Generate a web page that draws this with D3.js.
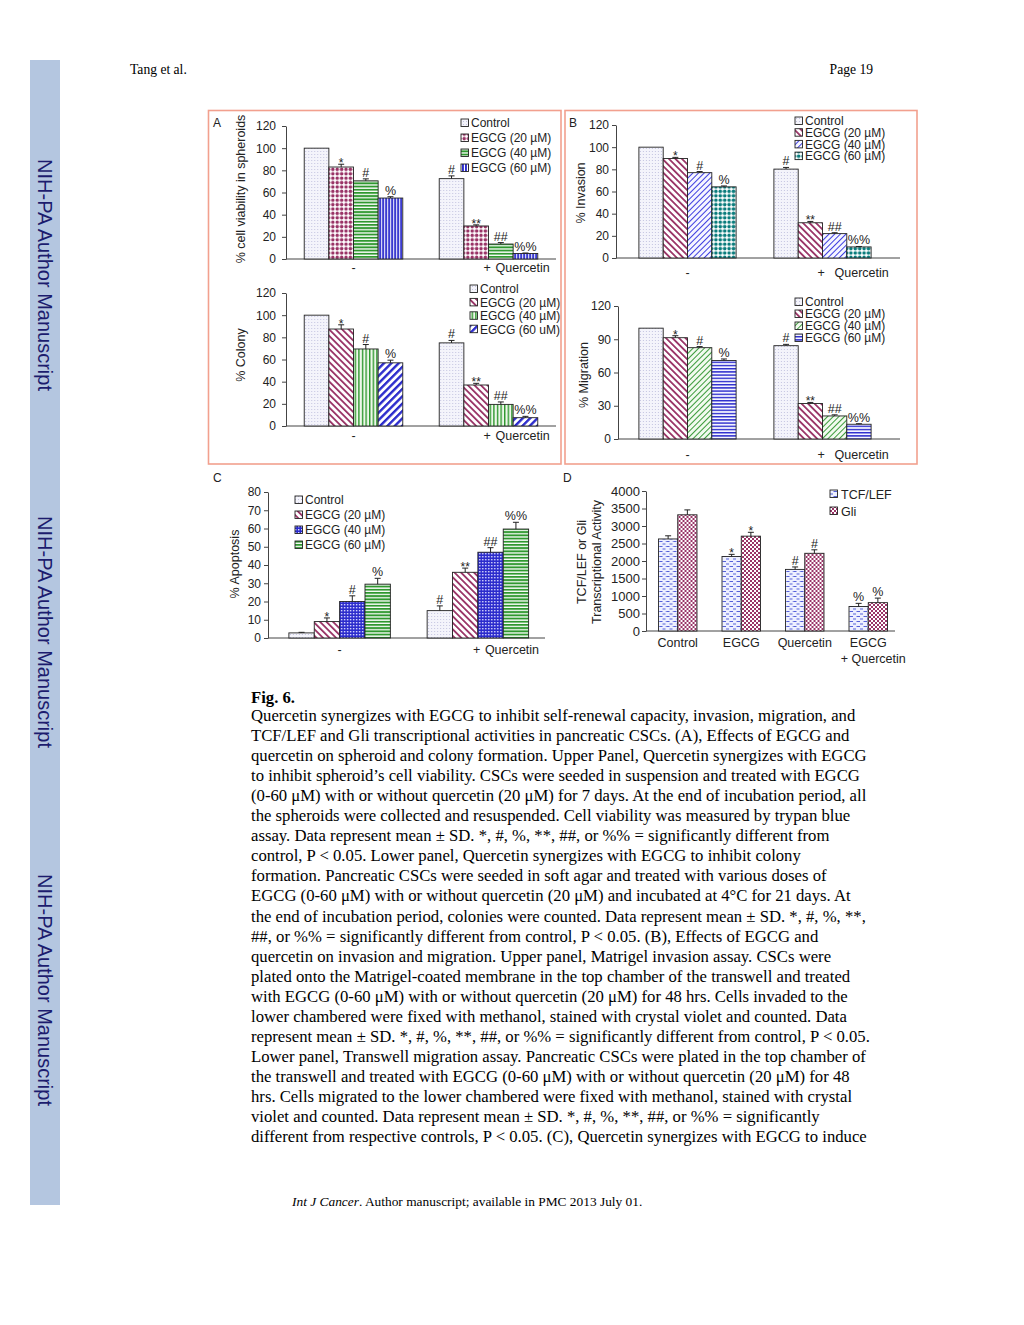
<!DOCTYPE html>
<html>
<head>
<meta charset="utf-8">
<script src="https://cdn.jsdelivr.net/npm/d3@7"></script>
<style>
body { margin: 0; background: #fff; }
svg { display: block; }
</style>
</head>
<body>
<svg id="page" width="1024" height="1325"></svg>
<script>
// ---------------- data ----------------
var groupsAB = ["-", "+ Quercetin"];
var doseLegend = ["Control", "EGCG (20 µM)", "EGCG (40 µM)", "EGCG (60 µM)"];
var doseLegendColony = ["Control", "EGCG (20 µM)", "EGCG (40 µM)", "EGCG (60 uM)"];
var marksNoQ = ["", "*", "#", "%"];
var marksQ = ["#", "**", "##", "%%"];

var viabilityNoQ = [100, 83, 70.5, 55];
var viabilityQ = [72.5, 29.8, 13.5, 5];
var viabilityErrNoQ = [0, 2.5, 1.8, 1.2];
var viabilityErrQ = [2.5, 1, 1.3, 0.4];
var viabilityTicks = [0, 20, 40, 60, 80, 100, 120];

var colonyNoQ = [100, 87.5, 69.5, 57];
var colonyQ = [75, 37, 19.5, 7.5];
var colonyErrNoQ = [0, 3.8, 4, 2.4];
var colonyErrQ = [2.2, 1.5, 2.2, 1.2];

var invasionNoQ = [100, 89.8, 77, 64.2];
var invasionQ = [80.2, 31.8, 22, 10];
var invasionErrNoQ = [0, 1, 1, 0.8];
var invasionErrQ = [1.5, 1.2, 0.8, 0.4];

var migrationNoQ = [100, 91.4, 82.4, 70.8];
var migrationQ = [84.2, 32, 20.8, 13.3];
var migrationErrNoQ = [0, 1.8, 1, 1.4];
var migrationErrQ = [1.2, 1, 1, 0.5];
var migrationTicks = [0, 30, 60, 90, 120];

var apoptosisNoQ = [2.8, 9, 20, 29.5];
var apoptosisQ = [15, 36, 47, 59.7];
var apoptosisErrNoQ = [0.3, 2, 3.1, 3.2];
var apoptosisErrQ = [2.6, 2.3, 2.5, 3.7];
var apoptosisTicks = [0, 10, 20, 30, 40, 50, 60, 70, 80];

var treatments = ["Control", "EGCG", "Quercetin", "EGCG + Quercetin"];
var reporterLegend = ["TCF/LEF", "Gli"];
var tcfLef = [2630, 2130, 1760, 700];
var gli = [3320, 2710, 2220, 810];
var tcfLefErr = [90, 60, 70, 90];
var gliErr = [140, 110, 100, 130];
var reporterMarks = ["", "*", "#", "%"];
var reporterTicks = [0, 500, 1000, 1500, 2000, 2500, 3000, 3500, 4000];

var captionLines = [
  "Quercetin synergizes with EGCG to inhibit self-renewal capacity, invasion, migration, and",
  "TCF/LEF and Gli transcriptional activities in pancreatic CSCs. (A), Effects of EGCG and",
  "quercetin on spheroid and colony formation. Upper Panel, Quercetin synergizes with EGCG",
  "to inhibit spheroid\u2019s cell viability. CSCs were seeded in suspension and treated with EGCG",
  "(0-60 \u03bcM) with or without quercetin (20 \u03bcM) for 7 days. At the end of incubation period, all",
  "the spheroids were collected and resuspended. Cell viability was measured by trypan blue",
  "assay. Data represent mean \u00b1 SD. *, #, %, **, ##, or %% = significantly different from",
  "control, P < 0.05. Lower panel, Quercetin synergizes with EGCG to inhibit colony",
  "formation. Pancreatic CSCs were seeded in soft agar and treated with various doses of",
  "EGCG (0-60 \u03bcM) with or without quercetin (20 \u03bcM) and incubated at 4\u00b0C for 21 days. At",
  "the end of incubation period, colonies were counted. Data represent mean \u00b1 SD. *, #, %, **,",
  "##, or %% = significantly different from control, P < 0.05. (B), Effects of EGCG and",
  "quercetin on invasion and migration. Upper panel, Matrigel invasion assay. CSCs were",
  "plated onto the Matrigel-coated membrane in the top chamber of the transwell and treated",
  "with EGCG (0-60 \u03bcM) with or without quercetin (20 \u03bcM) for 48 hrs. Cells invaded to the",
  "lower chambered were fixed with methanol, stained with crystal violet and counted. Data",
  "represent mean \u00b1 SD. *, #, %, **, ##, or %% = significantly different from control, P < 0.05.",
  "Lower panel, Transwell migration assay. Pancreatic CSCs were plated in the top chamber of",
  "the transwell and treated with EGCG (0-60 \u03bcM) with or without quercetin (20 \u03bcM) for 48",
  "hrs. Cells migrated to the lower chambered were fixed with methanol, stained with crystal",
  "violet and counted. Data represent mean \u00b1 SD. *, #, %, **, ##, or %% = significantly",
  "different from respective controls, P < 0.05. (C), Quercetin synergizes with EGCG to induce"
];

// ---------------- setup ----------------
var SANS = "'Liberation Sans', Arial, sans-serif";
var SERIF = "'Liberation Serif', 'Times New Roman', serif";
var INK = "#222";
var MAROON = "#993366", GREEN = "#2f982f", BLUE = "#2b2bcc", TEAL = "#0a7c7c";

var svg = d3.select("#page");
svg.append("rect").attr("width", 1024).attr("height", 1325).attr("fill", "#fff");
var defs = svg.append("defs");

function stripes(id, color, bg, size, thick, angle) {
  var p = defs.append("pattern").attr("id", id).attr("patternUnits", "userSpaceOnUse")
    .attr("width", size).attr("height", size).attr("patternTransform", "rotate(" + angle + ")");
  p.append("rect").attr("width", size).attr("height", size).attr("fill", bg);
  p.append("rect").attr("width", thick).attr("height", size).attr("fill", color);
}
function dots(id, color, bg, size, r) {
  var p = defs.append("pattern").attr("id", id).attr("patternUnits", "userSpaceOnUse")
    .attr("width", size).attr("height", size);
  p.append("rect").attr("width", size).attr("height", size).attr("fill", bg);
  p.append("circle").attr("cx", size / 2).attr("cy", size / 2).attr("r", r).attr("fill", color);
}

// control: faint lavender dots
(function() {
  var p = defs.append("pattern").attr("id", "pCtrl").attr("patternUnits", "userSpaceOnUse").attr("width", 3).attr("height", 3);
  p.append("rect").attr("width", 3).attr("height", 3).attr("fill", "#f4f4fb");
  p.append("rect").attr("x", 1).attr("y", 1).attr("width", 1).attr("height", 1).attr("fill", "#c4c4e0");
})();
dots("pMaroonDots", MAROON, "#fff", 4.4, 1.75);
dots("pTealDots", TEAL, "#fff", 4.4, 1.8);
stripes("pGreenH", GREEN, "#fff", 3.2, 1.9, 90);
stripes("pBlueV", BLUE, "#fff", 3, 1.9, 0);
stripes("pMaroonDiag", MAROON, "#fff", 4.6, 1.8, -45);
stripes("pGreenV", GREEN, "#eef7ea", 3.6, 1.4, 0);
stripes("pBlueDiagWide", BLUE, "#fff", 5.2, 2.4, 45);
stripes("pBlueDiagThin", "#3d3de0", "#f6f6ff", 4, 1, 45);
stripes("pGreenDiag", "#3a9a3a", "#f2faef", 4, 1, 45);
stripes("pBlueH", BLUE, "#f4f4ff", 3.2, 1.4, 90);
(function() {
  var p = defs.append("pattern").attr("id", "pBlueGrid").attr("patternUnits", "userSpaceOnUse").attr("width", 3).attr("height", 3);
  p.append("rect").attr("width", 3).attr("height", 3).attr("fill", BLUE);
  p.append("rect").attr("x", 1).attr("y", 1).attr("width", 1.4).attr("height", 1.4).attr("fill", "#dcdcff");
  var q = defs.append("pattern").attr("id", "pBlueDash").attr("patternUnits", "userSpaceOnUse").attr("width", 7).attr("height", 5);
  q.append("rect").attr("width", 7).attr("height", 5).attr("fill", "#eef0ff");
  q.append("rect").attr("x", 0.5).attr("y", 1).attr("width", 3.5).attr("height", 1).attr("fill", "#5560d8");
  q.append("rect").attr("x", 4).attr("y", 3.5).attr("width", 3.5).attr("height", 1).attr("fill", "#5560d8");
  var c = defs.append("pattern").attr("id", "pMaroonCheck").attr("patternUnits", "userSpaceOnUse").attr("width", 4).attr("height", 4);
  c.append("rect").attr("width", 4).attr("height", 4).attr("fill", "#fff");
  c.append("rect").attr("width", 2).attr("height", 2).attr("fill", MAROON);
  c.append("rect").attr("x", 2).attr("y", 2).attr("width", 2).attr("height", 2).attr("fill", MAROON);
})();

// ---------------- page furniture ----------------
svg.append("rect").attr("x", 30).attr("y", 60).attr("width", 30).attr("height", 1145).attr("fill", "#b4c6e0");
[275, 632, 990].forEach(function(cy) {
  svg.append("text").attr("transform", "translate(45," + cy + ") rotate(90)")
    .attr("text-anchor", "middle").attr("dy", "0.35em")
    .attr("font-family", SANS).attr("font-size", 20).attr("fill", "#1c1c6e")
    .text("NIH-PA Author Manuscript");
});
svg.append("text").attr("x", 130).attr("y", 74).attr("font-family", SERIF).attr("font-size", 13.6).text("Tang et al.");
svg.append("text").attr("x", 873).attr("y", 74).attr("text-anchor", "end").attr("font-family", SERIF).attr("font-size", 13.6).text("Page 19");

var foot = svg.append("text").attr("x", 292).attr("y", 1206).attr("font-family", SERIF).attr("font-size", 13.4);
foot.append("tspan").attr("font-style", "italic").text("Int J Cancer");
foot.append("tspan").text(". Author manuscript; available in PMC 2013 July 01.");

// panel frames
svg.append("rect").attr("x", 208.5).attr("y", 110.5).attr("width", 352.5).attr("height", 353.5)
  .attr("fill", "none").attr("stroke", "#f2a08e").attr("stroke-width", 1.6);
svg.append("rect").attr("x", 565).attr("y", 110.5).attr("width", 352).attr("height", 353.5)
  .attr("fill", "none").attr("stroke", "#f2a08e").attr("stroke-width", 1.6);

[["A", 213, 127], ["B", 569, 127], ["C", 213, 482], ["D", 563, 482]].forEach(function(l) {
  svg.append("text").attr("x", l[1]).attr("y", l[2]).attr("font-family", SANS).attr("font-size", 12).attr("fill", INK).text(l[0]);
});

// ---------------- chart drawing ----------------
function drawChart(cfg) {
  var g = svg.append("g").attr("font-family", SANS);
  var y = d3.scaleLinear().domain([0, cfg.yMax]).range([cfg.yBottom, cfg.yTop]);
  var x0 = d3.scaleBand().domain(cfg.groups).range(cfg.bandRange).paddingInner(cfg.pad).paddingOuter(cfg.pad / 2);
  var x1 = d3.scaleBand().domain(d3.range(cfg.fills.length)).range([0, x0.bandwidth()]);

  var ax = g.append("g").attr("transform", "translate(" + cfg.axisX + ",0)")
    .call(d3.axisLeft(y).tickValues(cfg.ticks).tickFormat(d3.format("d"))
      .tickSize(4).tickSizeOuter(0).tickPadding(cfg.tickPad));
  ax.selectAll("text").attr("font-size", cfg.tickFont || 12).attr("fill", INK).attr("font-family", SANS);
  ax.selectAll("line,path").attr("stroke", "#444");
  g.append("line").attr("x1", cfg.axisX).attr("x2", cfg.axisEnd).attr("y1", y(0)).attr("y2", y(0)).attr("stroke", "#444");

  var rows = cfg.values.map(function(vals, gi) {
    return vals.map(function(v, si) {
      return { gi: gi, si: si, v: v, e: cfg.errors[gi][si], m: cfg.marks[gi][si] };
    });
  });
  var grp = g.selectAll(".grp").data(rows).join("g")
    .attr("transform", function(d, i) { return "translate(" + x0(cfg.groups[i]) + ",0)"; });
  grp.selectAll("rect").data(function(d) { return d; }).join("rect")
    .attr("x", function(d) { return x1(d.si); })
    .attr("y", function(d) { return y(d.v); })
    .attr("width", x1.bandwidth())
    .attr("height", function(d) { return y(0) - y(d.v); })
    .attr("fill", function(d) { return "url(#" + cfg.fills[d.si] + ")"; })
    .attr("stroke", "#222").attr("stroke-width", 0.9);
  var eb = grp.selectAll(".err").data(function(d) { return d.filter(function(b) { return b.e > 0; }); }).join("g");
  eb.append("line")
    .attr("x1", function(d) { return x1(d.si) + x1.bandwidth() / 2; })
    .attr("x2", function(d) { return x1(d.si) + x1.bandwidth() / 2; })
    .attr("y1", function(d) { return y(d.v); })
    .attr("y2", function(d) { return y(d.v + d.e); })
    .attr("stroke", "#222");
  eb.append("line")
    .attr("x1", function(d) { return x1(d.si) + x1.bandwidth() / 2 - 3; })
    .attr("x2", function(d) { return x1(d.si) + x1.bandwidth() / 2 + 3; })
    .attr("y1", function(d) { return y(d.v + d.e); })
    .attr("y2", function(d) { return y(d.v + d.e); })
    .attr("stroke", "#222");
  grp.selectAll(".mark").data(function(d) { return d.filter(function(b) { return b.m; }); }).join("text")
    .attr("x", function(d) { return x1(d.si) + x1.bandwidth() / 2; })
    .attr("y", function(d) { return y(d.v + d.e) + (d.m.charAt(0) === "*" ? 3 : -2); })
    .attr("text-anchor", "middle")
    .attr("font-size", function(d) { return d.m.charAt(0) === "*" ? 12 : 12.5; })
    .attr("fill", INK)
    .text(function(d) { return d.m; });

  // y title
  cfg.yTitle.forEach(function(t, i) {
    g.append("text").attr("transform", "translate(" + cfg.yTitleX[i] + "," + cfg.yTitleY + ") rotate(-90)")
      .attr("text-anchor", "middle").attr("dy", "0.35em")
      .attr("font-size", cfg.yTitleFont || 12.5).attr("fill", INK).text(t);
  });

  // x labels
  cfg.groups.forEach(function(gr, gi) {
    var cx = x0(gr) + x0.bandwidth() / 2;
    if (cfg.xStyle === "dose") {
      if (gi === 0) {
        g.append("text").attr("x", cx).attr("y", cfg.xLabelY).attr("text-anchor", "middle")
          .attr("font-size", 12.5).attr("fill", INK).text(gr);
      } else {
        var t = g.append("text").attr("y", cfg.xLabelY).attr("font-size", 12.5).attr("fill", INK);
        t.append("tspan").attr("x", cx - 5).text("+");
        t.append("tspan").attr("x", cx - 5 + cfg.plusGap).text("Quercetin");
      }
    } else {
      var parts = gr.split(" + ");
      parts.forEach(function(p, k) {
        g.append("text").attr("x", cx + (k ? 5 : 0)).attr("y", cfg.xLabelY + k * 16).attr("text-anchor", "middle")
          .attr("font-size", 12.5).attr("fill", INK).text(k ? "+ " + p : p);
      });
    }
  });

  // legend
  var lg = g.append("g");
  cfg.legend.labels.forEach(function(lab, i) {
    var cy = cfg.legend.y + i * cfg.legend.dy;
    lg.append("rect").attr("x", cfg.legend.x).attr("y", cy - 4).attr("width", 7.5).attr("height", 7.5)
      .attr("fill", "url(#" + cfg.fills[i] + ")").attr("stroke", "#222").attr("stroke-width", 0.9);
    lg.append("text").attr("x", cfg.legend.x + (cfg.legend.gap || 10)).attr("y", cy).attr("dy", "0.36em")
      .attr("font-size", cfg.legend.font || 12).attr("fill", INK).text(lab);
  });
}

// A upper: spheroid viability
drawChart({
  groups: groupsAB, values: [viabilityNoQ, viabilityQ], errors: [viabilityErrNoQ, viabilityErrQ], marks: [marksNoQ, marksQ],
  fills: ["pCtrl", "pMaroonDots", "pGreenH", "pBlueV"],
  yMax: 120, ticks: viabilityTicks, yBottom: 259, yTop: 126, axisX: 286, axisEnd: 556, tickPad: 6,
  bandRange: [286, 556], pad: 0.27,
  yTitle: ["% cell viability in spheroids"], yTitleX: [241], yTitleY: 189,
  xStyle: "dose", xLabelY: 272, plusGap: 12,
  legend: { x: 461, y: 123, dy: 15, labels: doseLegend }
});
// A lower: colony
drawChart({
  groups: groupsAB, values: [colonyNoQ, colonyQ], errors: [colonyErrNoQ, colonyErrQ], marks: [marksNoQ, marksQ],
  fills: ["pCtrl", "pMaroonDiag", "pGreenV", "pBlueDiagWide"],
  yMax: 120, ticks: viabilityTicks, yBottom: 426, yTop: 293, axisX: 286, axisEnd: 556, tickPad: 6,
  bandRange: [286, 556], pad: 0.27,
  yTitle: ["% Colony"], yTitleX: [241], yTitleY: 355,
  xStyle: "dose", xLabelY: 440, plusGap: 12,
  legend: { x: 470, y: 289, dy: 13.4, labels: doseLegendColony }
});
// B upper: invasion
drawChart({
  groups: groupsAB, values: [invasionNoQ, invasionQ], errors: [invasionErrNoQ, invasionErrQ], marks: [marksNoQ, marksQ],
  fills: ["pCtrl", "pMaroonDiag", "pBlueDiagThin", "pTealDots"],
  yMax: 120, ticks: viabilityTicks, yBottom: 258, yTop: 125, axisX: 616, axisEnd: 900, tickPad: 3,
  bandRange: [620, 890], pad: 0.28,
  yTitle: ["% Invasion"], yTitleX: [581], yTitleY: 193,
  xStyle: "dose", xLabelY: 277, plusGap: 17,
  legend: { x: 795, y: 121, dy: 11.7, labels: doseLegend }
});
// B lower: migration
drawChart({
  groups: groupsAB, values: [migrationNoQ, migrationQ], errors: [migrationErrNoQ, migrationErrQ], marks: [marksNoQ, marksQ],
  fills: ["pCtrl", "pMaroonDiag", "pGreenDiag", "pBlueH"],
  yMax: 120, ticks: migrationTicks, yBottom: 439, yTop: 306, axisX: 618, axisEnd: 900, tickPad: 3,
  bandRange: [620, 890], pad: 0.28,
  yTitle: ["% Migration"], yTitleX: [584], yTitleY: 375,
  xStyle: "dose", xLabelY: 459, plusGap: 17,
  legend: { x: 795, y: 302, dy: 12, labels: doseLegend }
});
// C: apoptosis
drawChart({
  groups: groupsAB, values: [apoptosisNoQ, apoptosisQ], errors: [apoptosisErrNoQ, apoptosisErrQ], marks: [["", "*", "#", "%"], marksQ],
  fills: ["pCtrl", "pMaroonDiag", "pBlueGrid", "pGreenH"],
  yMax: 80, ticks: apoptosisTicks, yBottom: 638, yTop: 492, axisX: 268, axisEnd: 545, tickPad: 3,
  bandRange: [270.5, 547], pad: 0.266,
  yTitle: ["% Apoptosis"], yTitleX: [235], yTitleY: 564,
  xStyle: "dose", xLabelY: 654, plusGap: 12,
  legend: { x: 295, y: 500, dy: 15, labels: doseLegend }
});
// D: reporter activity
drawChart({
  groups: treatments,
  values: treatments.map(function(t, i) { return [tcfLef[i], gli[i]]; }),
  errors: treatments.map(function(t, i) { return [tcfLefErr[i], gliErr[i]]; }),
  marks: treatments.map(function(t, i) { return [reporterMarks[i], reporterMarks[i]]; }),
  fills: ["pBlueDash", "pMaroonCheck"],
  yMax: 4000, ticks: reporterTicks, yBottom: 631, yTop: 491, axisX: 646, axisEnd: 895, tickPad: 2, tickFont: 13,
  bandRange: [646, 900], pad: 0.394,
  yTitle: ["TCF/LEF or Gli", "Transcriptional Activity"], yTitleX: [582, 597], yTitleY: 562,
  xStyle: "treat", xLabelY: 647,
  legend: { x: 830, y: 494, dy: 17, labels: reporterLegend, gap: 11, font: 12.5 }
});

// ---------------- caption ----------------
var CAP = 16.7;
svg.append("text").attr("x", 251).attr("y", 703).attr("font-family", SERIF).attr("font-size", CAP)
  .attr("font-weight", "bold").text("Fig. 6.");
svg.append("g").selectAll("text").data(captionLines).join("text")
  .attr("x", 251).attr("y", function(d, i) { return 721 + i * 20.05; })
  .attr("font-family", SERIF).attr("font-size", CAP).attr("fill", "#000")
  .text(function(d) { return d; });
</script>
</body>
</html>
